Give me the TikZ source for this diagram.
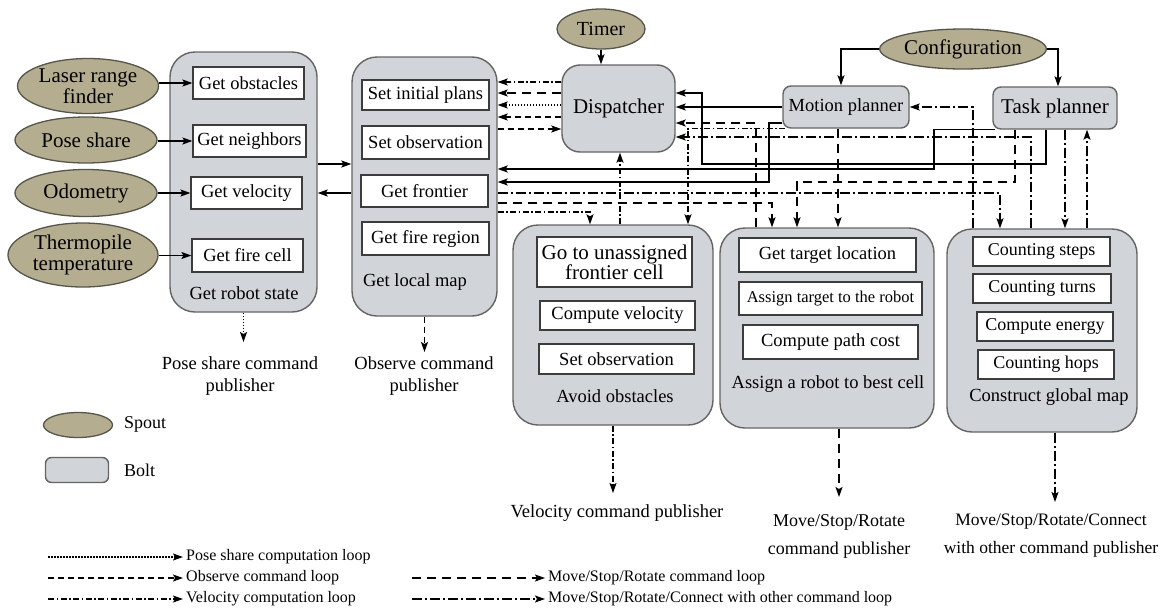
\documentclass[tikz,border=0pt]{standalone}
\usepackage{fontspec}
\setmainfont{Liberation Serif}
\usetikzlibrary{shapes.geometric,arrows.meta,calc}

\definecolor{spoutfill}{RGB}{181,173,143}
\definecolor{spoutedge}{RGB}{85,85,75}
\definecolor{boltfill}{RGB}{209,212,216}
\definecolor{boltedge}{RGB}{100,100,100}
\definecolor{boxedge}{RGB}{60,60,60}

\newcommand\setfs[2]{\fontsize{#1pt}{#2pt}\selectfont}

\tikzset{
  spout/.style={ellipse, draw=spoutedge, fill=spoutfill, line width=1.3pt,
    inner sep=0pt, align=center, font=\setfs{21}{24}},
  bolt/.style={rectangle, rounded corners=#1, draw=boltedge, fill=boltfill,
    line width=1.4pt, inner sep=0pt, align=center},
  bolt/.default=25pt,
  stepbox/.style={rectangle, draw=boxedge, fill=white, line width=1.2pt,
    inner sep=0pt, align=center, font=\setfs{18.5}{21}},
  sz/.style 2 args={minimum width=#1pt, minimum height=#2pt},
  lbl/.style={font=\setfs{18.5}{21}, inner sep=0pt, align=center},
  leg/.style={font=\setfs{16}{18}, inner sep=0pt, anchor=west},
  wire/.style={line width=1.2pt, draw=black},
  posel/.style={wire, dash pattern=on 1.5pt off 1.5pt},
  obsl/.style={wire, dash pattern=on 6pt off 4pt},
  vell/.style={wire, dash pattern=on 6pt off 2.5pt on 1.5pt off 2.5pt},
  msrl/.style={wire, dash pattern=on 9pt off 6pt},
  msrcl/.style={wire, dash pattern=on 10pt off 3pt on 2pt off 3pt},
  >={Stealth[length=10pt,width=7pt,inset=2pt]},
}

\begin{document}
\begin{tikzpicture}[x=1pt,y=-1pt]
\useasboundingbox (0,0) rectangle (1169,608);

% ---- spouts ----
\node[spout, sz={141}{55}] (laser) at (88,86) {Laser range\\[-3pt]finder};
\node[spout, sz={142}{46}] (pose) at (86,140) {Pose share};
\node[spout, sz={142}{47}] (odom) at (86,193) {Odometry};
\node[spout, sz={150}{64}, font=\setfs{21}{21}] (thermo) at (83,255) {Thermopile\\temperature};
\node[spout, sz={88}{40}, font=\setfs{20}{22}] (timer) at (601,29) {Timer};
\node[spout, sz={160}{40}] (config) at (963,49) {Configuration};

% ---- bolts ----
\node[bolt, sz={147}{260}] (robotstate) at (243.5,182) {};
\node[bolt, sz={145}{259}] (localmap) at (424.5,186.5) {};
\node[bolt=18pt, sz={113}{87}, font=\setfs{21}{24}] (dispatcher) at (618.5,108.5) {Dispatcher};
\node[bolt=8pt, sz={126}{42}, font=\setfs{18.5}{21}] (motion) at (846,107) {Motion planner};
\node[bolt=8pt, sz={124}{42}, font=\setfs{21}{24}] (taskp) at (1055,108) {Task planner};
\node[bolt, sz={200}{200}] (avoid) at (613,325) {};
\node[bolt, sz={214}{200}] (assign) at (827,328) {};
\node[bolt, sz={190}{203}] (construct) at (1042,330.5) {};

% ---- steps inside the bolts ----
\node[stepbox, sz={111}{32}] (getobs) at (248.5,83) {Get obstacles};
\node[stepbox, sz={113}{32}] (getnb) at (249.5,141) {Get neighbors};
\node[stepbox, sz={111}{32}] (getvel) at (246.5,193) {Get velocity};
\node[stepbox, sz={111}{33}] (getfire) at (247.5,255.5) {Get fire cell};
\node[lbl] (robotstatelbl) at (244,293) {Get robot state};

\node[stepbox, sz={127}{30}] (setinit) at (425.5,95) {Set initial plans};
\node[stepbox, sz={127}{33}] (setobs) at (425.5,142.5) {Set observation};
\node[stepbox, sz={127}{32}] (getfront) at (424.5,191) {Get frontier};
\node[stepbox, sz={127}{33}] (getfreg) at (425.5,238.5) {Get fire region};
\node[lbl] (localmaplbl) at (415,282) {Get local map};

\node[stepbox, sz={155}{50}, font=\setfs{21}{20}] (goto) at (614.5,262) {Go to unassigned\\frontier cell};
\node[stepbox, sz={155}{29}] (compvel) at (617.5,315.5) {Compute velocity};
\node[stepbox, sz={155}{30}] (setobsb) at (616.5,359) {Set observation};
\node[lbl] (avoidlbl) at (615,396) {Avoid obstacles};

\node[stepbox, sz={177}{34}] (gettarget) at (827.5,255) {Get target location};
\node[stepbox, sz={183}{33}, font=\setfs{16.5}{20}] (assigntarget) at (830.5,298.5) {Assign target to the robot};
\node[stepbox, sz={175}{34}] (pathcost) at (830.5,342) {Compute path cost};
\node[lbl] (assignlbl) at (828,384) {Assign a robot to best cell};

\node[stepbox, sz={137}{29}, font=\setfs{18}{20}] (csteps) at (1041.5,251.5) {Counting steps};
\node[stepbox, sz={138}{29}, font=\setfs{18}{20}] (cturns) at (1042,288.5) {Counting turns};
\node[stepbox, sz={136}{29}, font=\setfs{18}{20}] (cenergy) at (1045,326.5) {Compute energy};
\node[stepbox, sz={136}{29}, font=\setfs{18}{20}] (chops) at (1046,364.5) {Counting hops};
\node[lbl] (constructlbl) at (1049,397) {Construct global map};

% ---- publishers ----
\node[lbl, font=\setfs{18.5}{22}] (pubpose) at (240,376) {Pose share command\\publisher};
\node[lbl, font=\setfs{18.5}{22}] (pubobs) at (424,376) {Observe command\\publisher};
\node[lbl] (pubvel) at (617,513) {Velocity command publisher};
\node[lbl, font=\setfs{18}{28}] (pubmsr) at (839,536) {Move/Stop/Rotate\\command publisher};
\node[lbl, font=\setfs{17.5}{28}] (pubmsrc) at (1051,536) {Move/Stop/Rotate/Connect\\with other command publisher};
\coordinate (tippose) at (243.5,342);
\coordinate (tipobs) at (424.5,352);
\coordinate (tipvel) at (613,493);
\coordinate (tipmsr) at (839,497);
\coordinate (tipmsrc) at (1055,502);

\draw[posel,->] (robotstate.south) -- (tippose);
\draw[obsl,->] (localmap.south) -- (tipobs);
\draw[vell,->] (avoid.south) -- (tipvel);
\draw[msrl,->] (assign.south -| tipmsr) -- (tipmsr);
\draw[msrcl,->] (construct.south -| tipmsrc) -- (tipmsrc);

% ---- inputs to the robot state ----
\draw[wire,->] (laser.east |- getobs.west) -- (getobs.west);
\draw[wire,->] (pose.east |- getnb.west) -- (getnb.west);
\draw[wire,->] (odom.east |- getvel.west) -- (getvel.west);
\draw[wire,->] (thermo.east |- getfire.west) -- (getfire.west);

% ---- robot state <-> local map ----
\draw[wire,->] (robotstate.east |- 0,164) -- (localmap.west |- 0,164);
\draw[wire,->] (localmap.west |- 0,193) -- (robotstate.east |- 0,193);

% ---- timer, configuration ----
\draw[wire,->] (timer.south) -- (timer.south |- dispatcher.north);
\draw[wire,->] (config.west) -| ([xshift=-5pt]motion.north);
\draw[wire,->] (config.east) -| ([xshift=3pt]taskp.north);

% ---- dispatcher <-> local map ----
\draw[vell,->] (dispatcher.west |- 0,82) -- (localmap.east |- 0,82);
\draw[msrl,->] (dispatcher.west |- 0,93) -- (localmap.east |- 0,93);
\draw[posel,->] (dispatcher.west |- 0,105) -- (localmap.east |- 0,105);
\draw[obsl,->] (dispatcher.west |- 0,117) -- (localmap.east |- 0,117);
\draw[obsl,->] (localmap.east |- 0,129) -- (dispatcher.west |- 0,129);

% ---- planners to dispatcher and local map ----
\draw[wire,->] (motion.west) -- (dispatcher.east |- motion.west);
\draw[wire,->] (taskp.south -| 1046,0) |- (702,164) |- (dispatcher.east |- 0,93);
\draw[wire,->] (motion.west |- 0,123) -| (769,182) -- (localmap.east |- 0,182);
\draw[wire,->] ([xshift=3pt]taskp.south west) -| (934,169) -- (localmap.east |- 0,169);

% ---- local map outputs ----
\draw[msrcl,->] (localmap.east |- 0,193) -| (construct.north -| 1000,0);
\draw[msrl,->] (localmap.east |- 0,203) -| (assign.north -| 772,0);
\draw[vell,->] (localmap.east |- 0,212) -| (avoid.north -| 590,0);

% ---- velocity loop ----
\draw[vell,->] (avoid.north -| 620,0) -- (dispatcher.south -| 620,0);
\draw[vell,->] ([xshift=3pt]motion.south west) -| (avoid.north -| 688,0);

% ---- move/stop/rotate loop ----
\draw[msrl,->] (assign.north -| 756,0) |- (dispatcher.east |- 0,123);
\draw[msrl,->] (motion.south -| 838,0) -- (assign.north -| 838,0);
\draw[msrl,->] (taskp.south -| 1015,0) |- (797,182) -- (assign.north -| 797,0);

% ---- move/stop/rotate/connect loop ----
\draw[msrcl,->] (construct.north -| 1031,0) |- (dispatcher.east |- 0,137);
\draw[msrcl,->] (construct.north -| 973,0) |- (motion.east);
\draw[msrcl,->] (taskp.south -| 1065,0) -- (construct.north -| 1065,0);
\draw[msrcl,->] (construct.north -| 1087,0) -- (taskp.south -| 1087,0);

% ---- legend ----
\node[spout, sz={69}{25}] (legspout) at (78,425) {};
\node[leg, font=\setfs{18}{20}] (legspouttxt) at (124,424) {Spout};
\node[bolt=6pt, sz={63}{25}] (legbolt) at (77,470) {};
\node[leg, font=\setfs{18}{20}] (legbolttxt) at (124,470) {Bolt};

\node[leg] (lposetxt) at (186,557) {Pose share computation loop};
\node[leg] (lobstxt) at (186,578) {Observe command loop};
\node[leg] (lveltxt) at (186,599) {Velocity computation loop};
\node[leg] (lmsrtxt) at (548,578) {Move/Stop/Rotate command loop};
\node[leg] (lmsrctxt) at (548,599) {Move/Stop/Rotate/Connect with other command loop};
\coordinate (lpose) at (48,557);
\coordinate (lobs) at (48,578);
\coordinate (lvel) at (48,599);
\coordinate (lmsr) at (412,578);
\coordinate (lmsrc) at (412,599);
\draw[posel,->,shorten >=3pt] (lpose) -- (lposetxt.west);
\draw[obsl,->,shorten >=3pt] (lobs) -- (lobstxt.west);
\draw[vell,->,shorten >=3pt] (lvel) -- (lveltxt.west);
\draw[msrl,->,shorten >=3pt] (lmsr) -- (lmsrtxt.west);
\draw[msrcl,->,shorten >=3pt] (lmsrc) -- (lmsrctxt.west);
\end{tikzpicture}
\end{document}
